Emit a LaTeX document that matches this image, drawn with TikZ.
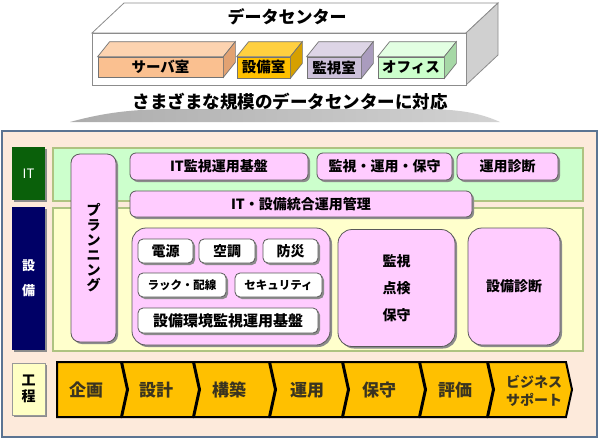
\documentclass[tikz,border=0pt]{standalone}
\usepackage{fontspec}
\setmainfont{Noto Sans CJK JP}
\usetikzlibrary{shadows,calc}
\definecolor{peach}{HTML}{FDEADB}
\definecolor{framec}{HTML}{5B7492}
\definecolor{itgreen}{HTML}{0A600A}
\definecolor{navyc}{HTML}{000066}
\definecolor{lyellow}{HTML}{FFFFC4}
\definecolor{bandg}{HTML}{CCFFCC}
\definecolor{bandy}{HTML}{FFFFCC}
\definecolor{bandline}{HTML}{AFC381}
\definecolor{pinkc}{HTML}{FFCCFF}
\definecolor{goldc}{HTML}{FFC000}
\definecolor{chevtxt}{HTML}{3A3420}
\definecolor{dcside}{HTML}{D0D0D0}
\definecolor{srvF}{HTML}{FAC090}
\definecolor{srvT}{HTML}{FCD3B0}
\definecolor{srvS}{HTML}{E2A272}
\definecolor{eqF}{HTML}{FFC000}
\definecolor{eqT}{HTML}{FFD040}
\definecolor{eqS}{HTML}{D6A000}
\definecolor{monF}{HTML}{CCC0DA}
\definecolor{monT}{HTML}{DDD5E6}
\definecolor{monS}{HTML}{AA9CBE}
\definecolor{offF}{HTML}{CCFFCC}
\definecolor{offT}{HTML}{E2FFE2}
\definecolor{offS}{HTML}{A6D8A6}
\newcommand\myfs[2]{\fontsize{#1}{#2}\selectfont}
\newcommand\chevron[2]{\draw[chev] (#1,362) -- (#2-6,362) -- (#2,389.5) -- (#2-6,417) -- (#1,417) -- (#1+6,389.5) -- cycle;}
\begin{document}
\begin{tikzpicture}[x=1pt,y=-1pt,
  dcline/.style={draw=black!45,line width=0.8pt},
  room/.style={draw=black!55,line width=0.7pt,inner sep=0pt,font=\myfs{14.5}{15}\bfseries},
  sh/.style={drop shadow={shadow xshift=2pt,shadow yshift=-2pt,fill=black!45,opacity=1}},
  pinkbox/.style={draw=black!65,line width=0.8pt,fill=pinkc,rounded corners=6pt,sh,inner sep=0pt,font=\myfs{14}{16}\bfseries},
  whitebox/.style={draw=black!65,line width=0.8pt,fill=white,rounded corners=5pt,sh,inner sep=0pt,font=\myfs{14}{16}\bfseries},
  label/.style={inner sep=0pt,sh,minimum width=33pt,font=\myfs{14}{16}\bfseries},
  band/.style={draw=bandline,line width=2pt,inner sep=0pt},
  chev/.style={draw=black,line width=2pt,fill=goldc,line join=miter},
  chevtext/.style={text=chevtxt,font=\myfs{17}{18}\bfseries,align=center}
]
\useasboundingbox (0,0) rectangle (600,440);

% ---------- data center box ----------
\draw[dcline,fill=white] (92,33) -- (124,3) -- (498,3) -- (466,33) -- cycle;
\draw[dcline,fill=dcside] (466,33) -- (498,3) -- (498,55) -- (466,85) -- cycle;
\node[dcline,fill=white,minimum width=374pt,minimum height=52pt,inner sep=0pt] (dc) at (279,59) {};
\node[font=\myfs{17}{18}\bfseries] (dctitle) at (287,17) {データセンター};

% rooms
\node[room,fill=srvF,minimum width=125pt,minimum height=20pt] (srv) at (160.5,67) {サーバ室};
\draw[room,fill=srvT] (srv.north west) -- ++(12,-15) -- ($(srv.north east)+(12,-15)$) -- (srv.north east) -- cycle;
\draw[room,fill=srvS] (srv.north east) -- ++(12,-15) -- ($(srv.south east)+(12,-15)$) -- (srv.south east) -- cycle;

\node[room,fill=eqF,minimum width=53pt,minimum height=21pt] (eq) at (263.5,67.5) {設備室};
\draw[room,fill=eqT] (eq.north west) -- ++(12,-15) -- ($(eq.north east)+(12,-15)$) -- (eq.north east) -- cycle;
\draw[room,fill=eqS] (eq.north east) -- ++(12,-15) -- ($(eq.south east)+(12,-15)$) -- (eq.south east) -- cycle;

\node[room,fill=monF,minimum width=54pt,minimum height=21pt] (mon) at (334,67.5) {監視室};
\draw[room,fill=monT] (mon.north west) -- ++(12,-15) -- ($(mon.north east)+(12,-15)$) -- (mon.north east) -- cycle;
\draw[room,fill=monS] (mon.north east) -- ++(12,-15) -- ($(mon.south east)+(12,-15)$) -- (mon.south east) -- cycle;

\node[room,fill=offF,minimum width=66pt,minimum height=21pt] (off) at (411,67.5) {オフィス};
\draw[room,fill=offT] (off.north west) -- ++(12,-15) -- ($(off.north east)+(12,-15)$) -- (off.north east) -- cycle;
\draw[room,fill=offS] (off.north east) -- ++(12,-15) -- ($(off.south east)+(12,-15)$) -- (off.south east) -- cycle;

% ---------- gray lens and caption ----------
\shade[left color=gray!65,right color=gray!35] (70,122) .. controls (110,111) and (140,109) .. (180,109) -- (420,109) .. controls (460,109) and (480,113) .. (500,122) -- cycle;
\node[font=\myfs{17.5}{19}\bfseries] (caption) at (290,102) {さまざまな規模のデータセンターに対応};

% ---------- main frame ----------
\node[draw=framec,line width=2pt,fill=peach,minimum width=595pt,minimum height=306pt,inner sep=0pt] (frame) at (299.5,284) {};

% row labels
\node[label,fill=itgreen,text=white,minimum height=53pt,font=\myfs{13}{15}] (lit) at (28.5,173.5) {IT};
\node[label,fill=navyc,text=white,minimum height=143pt,align=center,font=\myfs{13}{25}\bfseries] (lfac) at (28.5,278.5) {設\\備};
\node[label,fill=lyellow,draw=black!40,line width=0.6pt,minimum height=52pt,align=center,font=\myfs{14}{15.5}\bfseries] (lproc) at (28.5,389) {工\\程};

% bands
\node[band,fill=bandg,minimum width=530pt,minimum height=53pt] (bit) at (318,174.5) {};
\node[band,fill=bandy,minimum width=530pt,minimum height=143pt] (bfac) at (318,279.5) {};

% planning
\node[pinkbox,rounded corners=9pt,minimum width=45pt,minimum height=188pt,align=center,font=\myfs{14}{15}\bfseries] (plan) at (93.5,248) {プ\\ラ\\ン\\ニ\\ン\\グ};

% IT row
\node[pinkbox,minimum width=178pt,minimum height=27pt] (itmon) at (219,166.5) {IT監視運用基盤};
\node[pinkbox,minimum width=135pt,minimum height=27pt] (mom) at (384.5,166.5) {監視・運用・保守};
\node[pinkbox,minimum width=101pt,minimum height=27pt] (opdiag) at (507.5,166.5) {運用診断};
\node[pinkbox,minimum width=342pt,minimum height=26pt] (integ) at (301,204) {IT・設備統合運用管理};

% facility group
\node[pinkbox,rounded corners=14pt,minimum width=198pt,minimum height=117pt] (facgrp) at (231,286.5) {};
\node[whitebox,minimum width=55pt,minimum height=24pt] (power) at (165.5,251) {電源};
\node[whitebox,minimum width=56pt,minimum height=24pt] (air) at (227,251) {空調};
\node[whitebox,minimum width=55pt,minimum height=24pt] (disaster) at (290.5,251) {防災};
\node[whitebox,minimum width=88pt,minimum height=24pt,font=\myfs{11.5}{13}\bfseries] (rack) at (182,285) {ラック・配線};
\node[whitebox,minimum width=87pt,minimum height=24pt,font=\myfs{11.5}{13}\bfseries] (sec) at (278.5,285) {セキュリティ};
\node[whitebox,minimum width=180pt,minimum height=25pt,font=\myfs{15}{16}\bfseries] (envmon) at (228,320.5) {設備環境監視運用基盤};

\node[pinkbox,rounded corners=14pt,minimum width=117pt,minimum height=117pt,align=center,font=\myfs{14}{27}\bfseries] (insp) at (396.5,288) {監視\\点検\\保守};
\node[pinkbox,rounded corners=14pt,minimum width=92pt,minimum height=117pt] (facdiag) at (514,286.5) {設備診断};

% ---------- process chevrons ----------
\draw[chev] (57,362) -- (121,362) -- (127,389.5) -- (121,417) -- (57,417) -- cycle;
\chevron{122}{199}
\chevron{194}{275}
\chevron{270}{348}
\chevron{343}{425}
\chevron{420}{493}
\chevron{488}{572}
\node[chevtext] (p1) at (86,390) {企画};
\node[chevtext] (p2) at (156,390) {設計};
\node[chevtext] (p3) at (229,390) {構築};
\node[chevtext] (p4) at (307,390) {運用};
\node[chevtext] (p5) at (379,390) {保守};
\node[chevtext] (p6) at (455,390) {評価};
\node[chevtext,font=\myfs{14}{18}\bfseries] (p7) at (534,391) {ビジネス\\サポート};
\end{tikzpicture}
\end{document}
